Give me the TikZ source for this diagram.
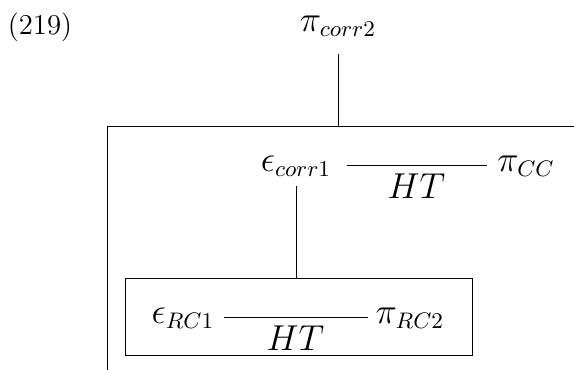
\documentclass[tikz,border=0pt]{standalone}
\begin{document}
\begin{tikzpicture}[x=0.4pt,y=-0.4pt,
  every node/.style={font=\fontsize{13.5}{16}\selectfont},
  term/.style={inner sep=0pt, minimum height=16pt},
  link/.style={line width=0.4pt},
  edgelabel/.style={below=3pt, inner sep=0pt}]
\useasboundingbox (0,0) rectangle (574,370);

% example number
\node[font=\fontsize{11.5}{13}\selectfont] (num) at (40,27) {(219)};

% top term and the open outer frame below it
\node[term] (pc2) at (338,26) {$\pi_{corr2}$};
\coordinate (otl) at (107,127);
\coordinate (otr) at (574,127);
\coordinate (obl) at (107,370);
\draw[link] (otr) -- (otl) -- (obl);
\draw[link, shorten <=3.2pt] (pc2.south) -- (pc2.south |- otl);

% first row inside the outer frame
\node[term, minimum width=40pt] (ec1) at (296,166) {$\epsilon_{corr1}$};
\node[term, minimum width=31.2pt] (pCC) at (526,166) {$\pi_{CC}$};
\draw[link] (ec1) -- node[edgelabel] (ht1) {$HT$} (pCC);

% inner frame, hanging from the first row
\node[draw, line width=0.4pt, minimum width=138.4pt, minimum height=30.8pt] (inner) at (299,317.5) {};
\draw[link] (ec1.south) -- (ec1.south |- inner.north);

% second row inside the inner frame
\node[term, minimum width=32pt] (er1) at (183,318) {$\epsilon_{RC1}$};
\node[term, minimum width=33.6pt] (pr2) at (410,318) {$\pi_{RC2}$};
\draw[link] (er1) -- node[edgelabel] (ht2) {$HT$} (pr2);
\end{tikzpicture}
\end{document}
